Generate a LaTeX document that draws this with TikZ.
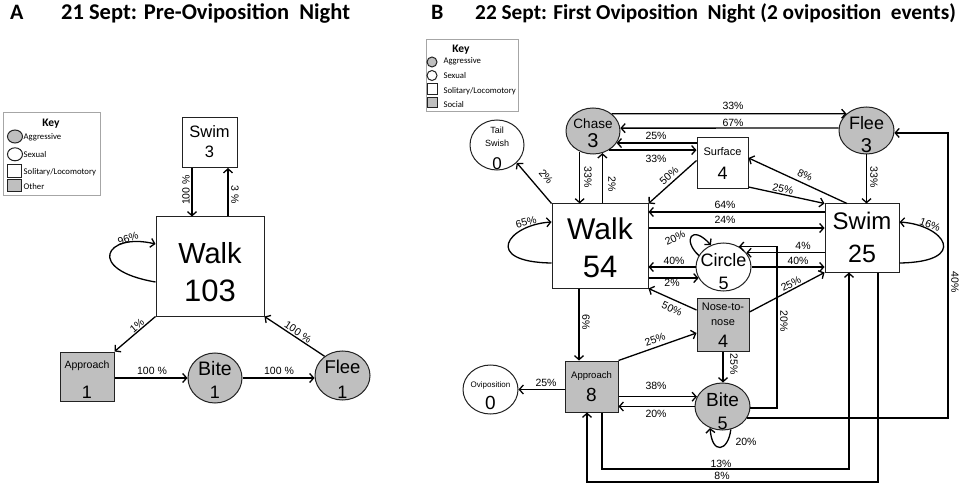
\documentclass[tikz,border=0pt]{standalone}
\usepackage{fontspec}
\setmainfont{Liberation Sans}
\newfontfamily\calfont{Carlito}
\usetikzlibrary{shapes.geometric,arrows.meta}
\newcommand\fsz[1]{\fontsize{#1pt}{#1pt}\selectfont}
\definecolor{grayfill}{HTML}{BFBFBF}
\definecolor{bord}{HTML}{222222}
\definecolor{keyb}{HTML}{A6A6A6}
\tikzset{
 box/.style={draw=bord, line width=1pt, rectangle, inner sep=0pt, fill=white},
 gbox/.style={box, fill=grayfill},
 ell/.style={draw=bord, line width=1pt, ellipse, inner sep=0pt, fill=white},
 gell/.style={ell, fill=grayfill},
 arr/.style={line width=1.3pt, -{Straight Barb[length=4pt,width=9pt]}},
 txt/.style={anchor=base, inner sep=0pt},
 pct/.style={inner sep=0pt, font=\fsz{10.5}},
 keyt/.style={anchor=base west, inner sep=0pt, font=\calfont\fsz{8.7}},
 ttl/.style={anchor=base west, inner sep=0pt, font=\calfont\bfseries\fsz{22}},
}
\begin{document}
\begin{tikzpicture}[x=1pt,y=-1pt]
\useasboundingbox (0,0) rectangle (963,486);
\fill[white] (0,0) rectangle (963,486);

% titles
\node[ttl] (tA) at (10,19.5) {A};
\node[ttl, font=\calfont\bfseries\fsz{22.5}] (tA2) at (61,19.5) {21 Sept: Pre-Oviposition \ Night};
\node[ttl] (tB) at (431,19.5) {B};
\node[ttl, font=\calfont\bfseries\fsz{21.3}] (tB2) at (475,19.5) {22 Sept: First Oviposition \ Night (2 oviposition \ events)};

% ---------- Panel A ----------
\node[draw=keyb, line width=0.8pt, minimum width=97pt, minimum height=83pt, inner sep=0pt] (keyA) at (51.5,153.5) {};
\node[txt, font=\calfont\bfseries\fsz{11.5}] at (51,127) {Key};
\node[gell, minimum width=15pt, minimum height=13pt] (kA1) at (15,136.5) {};
\node[keyt] at (23.5,140) {Aggressive};
\node[ell, minimum width=15pt, minimum height=13pt] (kA2) at (15,154.3) {};
\node[keyt] at (23.5,157.5) {Sexual};
\node[box, minimum width=14pt, minimum height=13pt] (kA3) at (14.5,170.7) {};
\node[keyt] at (23.5,174.5) {Solitary/Locomotory};
\node[gbox, minimum width=14pt, minimum height=12pt] (kA4) at (14.5,186) {};
\node[keyt] at (23.5,190) {Other};

\node[box, minimum width=55pt, minimum height=50pt] (swimA) at (209.5,142.5) {};
\node[box, minimum width=108pt, minimum height=99pt] (walkA) at (210,266.5) {};
\node[gbox, minimum width=54pt, minimum height=49pt] (apprA) at (87,376.5) {};
\node[gell, minimum width=54pt, minimum height=50pt] (biteA) at (215,378) {};
\node[gell, minimum width=55pt, minimum height=49pt] (fleeA) at (342.5,375.5) {};

\node[txt,font=\fsz{16.5}] at (209.5,138) {Swim};
\node[txt,font=\fsz{16.5}] at (209.5,158) {3};
\node[txt,font=\fsz{29}] at (210,263) {Walk};
\node[txt,font=\fsz{31}] at (210,301) {103};
\node[txt,font=\fsz{10.5}] at (87,368) {Approach};
\node[txt,font=\fsz{18}] at (87,398) {1};
\node[txt,font=\fsz{19.5}] at (215,375) {Bite};
\node[txt,font=\fsz{18}] at (215,398) {1};
\node[txt,font=\fsz{18.5}] at (342.5,373) {Flee};
\node[txt,font=\fsz{18}] at (342.5,398) {1};

\draw[arr] ([xshift=-17.5pt]swimA.south) -- ([xshift=-18pt]walkA.north);
\draw[arr] ([xshift=18pt]walkA.north) -- ([xshift=18.5pt]swimA.south);
\node[pct, rotate=90] at (186,190) {100 \%};
\node[pct, rotate=-90] at (235,195) {3 \%};
\draw[arr] ([yshift=-15.5pt]walkA.west) .. controls (85,270) and (105,232) .. ([yshift=22.5pt]walkA.west);
\node[pct, rotate=20] at (128,239) {96\%};
\draw[arr] (walkA.south west) -- (apprA.north east);
\node[pct, rotate=40] at (137,326) {1\%};
\draw[arr] (biteA.west -| apprA.east) -- (biteA.west);
\node[pct] at (152,371) {100 \%};
\draw[arr] (biteA.east) -- (biteA.east -| fleeA.west);
\node[pct] at (279,371) {100 \%};
\draw[arr] (fleeA.133) -- (walkA.south east);
\node[pct, rotate=-34] at (298,332) {100 \%};

% ---------- Panel B ----------
\node[draw=keyb, line width=0.8pt, minimum width=92pt, minimum height=72pt, inner sep=0pt] (keyB) at (472,75) {};
\node[txt, font=\calfont\bfseries\fsz{11.5}] at (461,53) {Key};
\node[gell, minimum width=10pt, minimum height=10pt] (kB1) at (432,62) {};
\node[keyt] at (443.3,63.5) {Aggressive};
\node[ell, minimum width=10pt, minimum height=10pt] (kB2) at (432,75.5) {};
\node[keyt] at (443.3,78.3) {Sexual};
\node[box, minimum width=10pt, minimum height=11pt] (kB3) at (432,89) {};
\node[keyt] at (443.3,93.3) {Solitary/Locomotory};
\node[gbox, minimum width=10pt, minimum height=10pt] (kB4) at (432,103) {};
\node[keyt] at (443.3,107.3) {Social};

\node[ell, minimum width=54pt, minimum height=50pt] (tail) at (497,145) {};
\node[gell, minimum width=54pt, minimum height=46pt] (chase) at (593,131) {};
\node[box, minimum width=51pt, minimum height=51pt] (surface) at (722.5,163.5) {};
\node[gell, minimum width=55pt, minimum height=47pt] (fleeB) at (866.5,130.5) {};
\node[box, minimum width=96pt, minimum height=84pt] (walkB) at (600,246) {};
\node[box, minimum width=74pt, minimum height=68pt] (swimB) at (862,238) {};
\node[ell, minimum width=55pt, minimum height=48pt] (circ) at (723.5,267) {};
\node[gbox, minimum width=52pt, minimum height=53pt] (nose) at (723,324.5) {};
\node[gbox, minimum width=53pt, minimum height=51pt] (apprB) at (591.5,386.5) {};
\node[ell, minimum width=55pt, minimum height=49pt] (ovi) at (490.5,389.5) {};
\node[gell, minimum width=55pt, minimum height=47pt] (biteB) at (722.5,406.5) {};

\node[txt,font=\fsz{9}] at (497,134) {Tail};
\node[txt,font=\fsz{9}] at (497,147) {Swish};
\node[txt,font=\fsz{17}] at (497,170) {0};
\node[txt,font=\fsz{13.5}] at (593,129) {Chase};
\node[txt,font=\fsz{20}] at (593,148) {3};
\node[txt,font=\fsz{11}] at (722.5,156) {Surface};
\node[txt,font=\fsz{18}] at (722.5,180) {4};
\node[txt,font=\fsz{18}] at (866.5,130) {Flee};
\node[txt,font=\fsz{20}] at (866.5,153) {3};
\node[txt,font=\fsz{30}] at (600,240) {Walk};
\node[txt,font=\fsz{31}] at (600,277) {54};
\node[txt,font=\fsz{24}] at (862,230) {Swim};
\node[txt,font=\fsz{25}] at (862,262) {25};
\node[txt,font=\fsz{18}] at (723.5,266) {Circle};
\node[txt,font=\fsz{18}] at (723.5,289) {5};
\node[txt,font=\fsz{11}] at (723,310) {Nose-to-};
\node[txt,font=\fsz{11}] at (723,325) {nose};
\node[txt,font=\fsz{18}] at (723,347) {4};
\node[txt,font=\fsz{9.5}] at (591.5,378) {Approach};
\node[txt,font=\fsz{19}] at (591.5,401) {8};
\node[txt,font=\fsz{8}] at (490.5,387) {Oviposition};
\node[txt,font=\fsz{19}] at (490.5,409) {0};
\node[txt,font=\fsz{19}] at (722.5,406) {Bite};
\node[txt,font=\fsz{18}] at (722.5,429) {5};

% helper points
\coordinate (sw26) at ([yshift=26pt]swimB.west);
\coordinate (sw10) at ([yshift=10pt]swimB.west);
\coordinate (s13) at ([xshift=-13pt]swimB.south);
\coordinate (s8) at ([xshift=16pt]swimB.south);
\coordinate (a13) at ([xshift=10.5pt]apprB.south);
\coordinate (a8) at ([xshift=-4.5pt]apprB.south);
\coordinate (w6) at ([xshift=-21pt]walkB.south);
\coordinate (lane40) at (948,0);
\coordinate (lane13) at (0,469);
\coordinate (lane8) at (0,482);
\coordinate (lane20) at (777,0);

\draw[arr] (chase.43) -- (fleeB.140);
\node[pct] at (733,106) {33\%};
\draw[arr] (fleeB.175) -- (chase.6);
\node[pct] at (733,123) {67\%};
\draw[arr] (chase.-27 -| surface.west) -- (chase.-27);
\node[pct] at (656,135.5) {25\%};
\draw[arr] (chase.-50) -- (chase.-50 -| surface.west);
\node[pct] at (656,159) {33\%};
\draw[arr] (chase.-123) -- (chase.-123 |- walkB.north);
\node[pct,rotate=-90] at (588,177) {33\%};
\draw[arr] (chase.-67 |- walkB.north) -- (chase.-67);
\node[pct,rotate=-90] at (612,184) {2\%};
\draw[arr] (walkB.north west) -- (tail.-42);
\node[pct,rotate=-50] at (546,177) {2\%};
\draw[arr] ([yshift=3pt]surface.west) -- (walkB.north east);
\node[pct,rotate=42] at (669,176) {50\%};
\draw[arr] ([yshift=-23.5pt]surface.east) -- (swimB.north west);
\node[pct,rotate=-13] at (783,189) {25\%};
\draw[arr] ([xshift=-15pt]swimB.north) -- ([yshift=5.5pt]surface.east);
\node[pct,rotate=-25] at (805,175) {8\%};
\draw[arr] (fleeB.south) -- (fleeB.south |- swimB.north);
\node[pct,rotate=-90] at (874,177) {33\%};
\draw[arr] (sw26) -- (sw26 -| walkB.east);
\node[pct] at (725,205) {64\%};
\draw[arr] (sw10 -| walkB.east) -- (sw10);
\node[pct] at (725,220) {24\%};
\draw[arr] ([yshift=-25pt]swimB.east) .. controls (970,262) and (945,225) .. ([yshift=16pt]swimB.east);
\node[pct,rotate=-20] at (930,225) {16\%};
\draw[arr] ([yshift=-17pt]walkB.west) .. controls (482,262) and (507,225) .. ([yshift=24pt]walkB.west);
\node[pct,rotate=15] at (526,222) {65\%};
\draw[arr] (circ.155) .. controls (682,240) and (692,224) .. (circ.120);
\node[pct,rotate=25] at (675,238) {20\%};
\draw[arr] (circ.west) -- (circ.west -| walkB.east);
\node[pct] at (674,261) {40\%};
\draw[arr] (circ.204 -| walkB.east) -- (circ.204);
\node[pct] at (672,283) {2\%};
\draw[arr] (circ.32 -| swimB.west) -- (circ.32);
\node[pct] at (803,246) {4\%};
\draw[arr] (circ.east) -- (circ.east -| swimB.west);
\node[pct] at (798,261) {40\%};
\draw[arr] ([yshift=12.5pt]nose.east) -- (swimB.south west);
\node[pct,rotate=27] at (791,284) {25\%};
\draw[arr] ([yshift=14.5pt]nose.west) -- (walkB.south east);
\node[pct,rotate=-25] at (672,309) {50\%};
\draw[arr] (nose.south) -- (nose.south |- biteB.north);
\node[pct,rotate=-90] at (734,364) {25\%};
\draw[arr] (w6) -- (w6 |- apprB.north);
\node[pct,rotate=-90] at (586,322) {6\%};
\draw[arr] (apprB.north east) -- ([yshift=-8.5pt]nose.west);
\node[pct,rotate=20] at (655,340) {25\%};
\draw[arr] (ovi.east -| apprB.west) -- (ovi.east);
\node[pct] at (546,382.5) {25\%};
\draw[arr] (biteB.159 -| apprB.east) -- (biteB.159);
\node[pct] at (656,386) {38\%};
\draw[arr] (biteB.west) -- (biteB.west -| apprB.east);
\node[pct] at (656,413.5) {20\%};
\draw[arr] (biteB.-70) .. controls (728,452) and (712,455) .. (biteB.-120);
\node[pct] at (746,441.5) {20\%};
\draw[arr] (biteB.-25) -| (lane40 |- fleeB.-5) -- (fleeB.-5);
\node[pct,rotate=-90] at (955,282) {40\%};
\draw[arr] (a13) |- (s13 |- lane13) -- (s13);
\node[pct] at (721,463.5) {13\%};
\draw[arr] (s8) |- (a8 |- lane8) -- (a8);
\node[pct] at (722,476) {8\%};
\draw[arr] (biteB.-3) -| (lane20 |- circ.53) -- (circ.53);
\node[pct,rotate=-90] at (784,321) {20\%};
\end{tikzpicture}
\end{document}
